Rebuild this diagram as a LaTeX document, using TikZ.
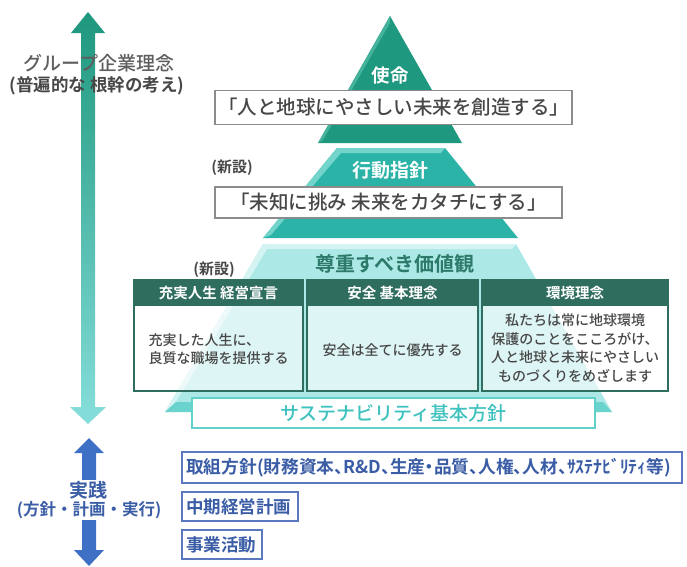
\documentclass[tikz,border=0pt]{standalone}
\usepackage{fontspec}
\setmainfont{Noto Sans CJK JP}[UprightFont={* Medium}, BoldFont={* Bold}]
\newfontfamily\jpp{Noto Sans CJK JP}[UprightFont={* Medium}, BoldFont={* Bold}, RawFeature=+palt]
\definecolor{arrTop}{HTML}{1E977D}
\definecolor{arrBot}{HTML}{86DEDB}
\definecolor{tOne}{HTML}{1F9880}
\definecolor{tOneL}{HTML}{45B39C}
\definecolor{tTwo}{HTML}{2AB3A6}
\definecolor{tTwoL}{HTML}{72D4CA}
\definecolor{tThree}{HTML}{ACE8E5}
\definecolor{tThreeL}{HTML}{D3F4F2}
\definecolor{tThreeD}{HTML}{6BD3CE}
\definecolor{hdrC}{HTML}{2F6D5F}
\definecolor{grayT}{HTML}{474747}
\definecolor{grayL}{HTML}{5E5E5E}
\definecolor{tealT}{HTML}{2D7A6B}
\definecolor{cyanT}{HTML}{3EC2BF}
\definecolor{cyanB}{HTML}{62D0CB}
\definecolor{blueA}{HTML}{3E70C6}
\definecolor{blueT}{HTML}{3A5DA6}
\definecolor{blueB}{HTML}{5A77C0}
\tikzset{
  wbox/.style={draw=black!45, line width=1.1pt, fill=white},
  bodybox/.style={fill=white, fill opacity=0.6},
  frame/.style={draw=hdrC, line width=2.2pt},
  hdrtext/.style={text=white, font=\fontsize{14.5}{16}\selectfont\bfseries},
  bodytext/.style={text=grayT, font=\fontsize{14}{18.4}\selectfont, inner sep=0pt},
  pbox/.style={draw=blueB, line width=1.1pt, fill=white},
  ptext/.style={text=blueT, font=\fontsize{17.5}{19}\selectfont\bfseries, inner sep=0pt},
  newtag/.style={text=grayT, font=\fontsize{15}{17}\selectfont\bfseries},
}
\begin{document}
\begin{tikzpicture}[x=1pt,y=-1pt]
\useasboundingbox (0,0) rectangle (687,566);
% left gradient double arrow
\shade[top color=arrTop, bottom color=arrBot]
  (88,12) -- (105,33) -- (95,33) -- (95,407) -- (106,407) -- (88,424)
  -- (70,407) -- (81,407) -- (81,33) -- (71,33) -- cycle;
% blue double arrow
\fill[blueA] (89,438) -- (104,453) -- (96,453) -- (96,550) -- (104,550) -- (89,566)
  -- (74,550) -- (82,550) -- (82,453) -- (74,453) -- cycle;
% pyramid tier 1
\fill[tOne] (390,16) -- (462,143) -- (318,143) -- cycle;
\fill[tOneL] (390,16) -- (318,143) -- (323,140) -- (390,23) -- cycle;
% tier 2
\fill[tTwo] (337,148) -- (445,148) -- (518,238) -- (263,238) -- cycle;
\fill[tTwoL] (337,148) -- (445,148) -- (441,153) -- (341,153) -- cycle;
\fill[tTwoL] (337,148) -- (341,153) -- (271,235) -- (263,238) -- cycle;
% tier 3
\fill[tThree] (263,244) -- (516,244) -- (612,412) -- (165,412) -- cycle;
\fill[tThreeL] (263,244) -- (516,244) -- (512,249) -- (267,249) -- cycle;
\fill[tThreeL] (263,244) -- (267,249) -- (176,402) -- (165,412) -- cycle;
\fill[tThreeD] (176,402) -- (603,402) -- (612,412) -- (165,412) -- cycle;
% top tier texts
\node[text=white, font=\fontsize{18.5}{20}\selectfont\bfseries] (mission) at (390,75) {使命};
\node[wbox, minimum width=357pt, minimum height=34pt, inner sep=0pt,
      text=grayT, font=\fontsize{19.5}{21}\selectfont] (mtext) at (393.5,107.5)
      {「人と地球にやさしい未来を創造する」};
\node[text=white, font=\fontsize{19}{21}\selectfont\bfseries] (conduct) at (390,170) {行動指針};
\node[wbox, minimum width=347pt, minimum height=31pt, inner sep=0pt,
      text=grayT, font=\fontsize{19.5}{21}\selectfont] (ctext) at (388.5,202.5)
      {「未知に挑み 未来をカタチにする」};
\node[newtag] (new1) at (232,168) {(新設)};
\node[newtag] (new2) at (214,270) {(新設)};
\node[text=tealT, font=\fontsize{20}{22}\selectfont\bfseries] (values) at (395,264) {尊重すべき価値観};
% three value boxes
\fill[bodybox] (134,280) rectangle (303,391);
\fill[bodybox] (307,280) rectangle (478,391);
\fill[bodybox] (482,280) rectangle (668,391);
\fill[hdrC] (134,280) rectangle (303,306);
\fill[hdrC] (307,280) rectangle (478,306);
\fill[hdrC] (482,280) rectangle (668,306);
\draw[frame] (134,280) rectangle (303,391);
\draw[frame] (307,280) rectangle (478,391);
\draw[frame] (482,280) rectangle (668,391);
\node[hdrtext] (h1) at (218.5,293) {充実人生 経営宣言};
\node[hdrtext] (h2) at (392.5,293) {安全\ 基本理念};
\node[hdrtext] (h3) at (575,293) {環境理念};
\node[bodytext, align=left] (b1) at (218.5,349) {充実した人生に、\\良質な職場を提供する};
\node[bodytext] (b2) at (392.5,350) {安全は全てに優先する};
\node[bodytext, align=center] (b3) at (575,348)
  {私たちは常に地球環境\\保護のことをこころがけ、\\人と地球と未来にやさしい\\ものづくりをめざします};
% sustainability
\node[draw=cyanB, line width=1.3pt, fill=white, minimum width=403pt, minimum height=30pt,
      inner sep=0pt, text=cyanT, font=\fontsize{19}{21}\selectfont] (sus) at (393.5,413)
      {サステナビリティ基本方針};
% left texts
\node[text=grayL, font=\fontsize{19}{21}\selectfont] (corp) at (99,63) {グループ企業理念};
\node[text=grayT, font=\fontsize{17.5}{19}\selectfont\bfseries] (corp2) at (97,86) {(普遍的な 根幹の考え)};
\node[fill=white, inner sep=1pt, text=blueT, font=\fontsize{19}{21}\selectfont\bfseries] (prac) at (88,490) {実践};
\node[fill=white, inner sep=1pt, text=blueT, font=\fontsize{16.5}{18}\selectfont\bfseries] (prac2) at (89,510) {(方針・計画・実行)};
% practice boxes
\draw[pbox] (182,452) rectangle (682,483);
\node[ptext, anchor=west, font=\jpp\fontsize{17.7}{19}\selectfont\bfseries] (p1) at (186,467.5)
  {取組方針(財務資本、R\&D、生産・品質、人権、人材、ｻｽﾃﾅﾋﾞﾘﾃｨ等)};
\draw[pbox] (182,492) rectangle (298,521);
\node[ptext, anchor=west] (p2) at (186,506.5) {中期経営計画};
\draw[pbox] (182,530) rectangle (262,559);
\node[ptext, anchor=west] (p3) at (186,544.5) {事業活動};
\end{tikzpicture}
\end{document}
